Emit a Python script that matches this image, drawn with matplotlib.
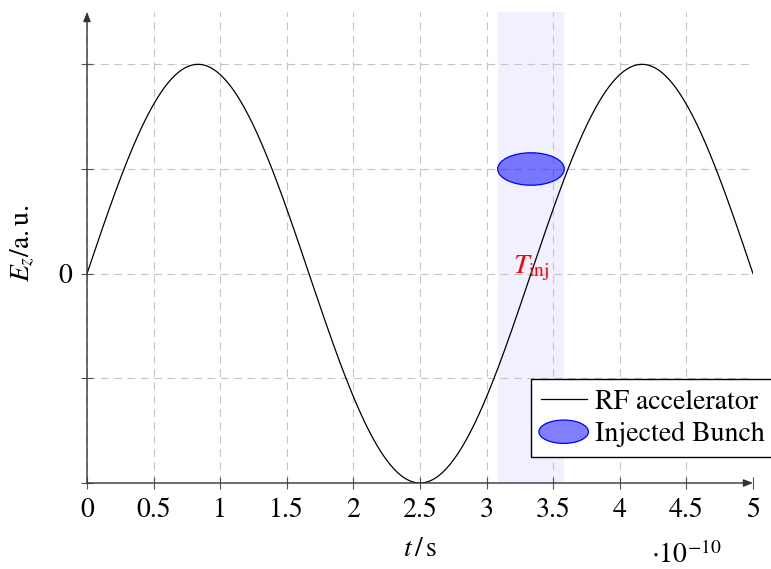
import numpy as np
import matplotlib
matplotlib.use("Agg")
import matplotlib.pyplot as plt
from matplotlib.patches import Ellipse
from matplotlib.legend_handler import HandlerPatch

plt.rcParams["font.family"] = ["STIXGeneral", "DejaVu Serif"]
plt.rcParams["mathtext.fontset"] = "stix"

# RF field parameters (time axis in units of 1e-10 s)
rf_frequency_ghz = 3.0
rf_amplitude = 1.0
t_start, t_end = 0.0, 5.0

# Injected bunch
t_inj = 10.0 / rf_frequency_ghz          # one RF period, in 1e-10 s
window_half_width = 0.25
bunch_field = 0.5
bunch_width = 0.5
bunch_height = 0.155

# Axis ticks
x_ticks = [0, 0.5, 1, 1.5, 2, 2.5, 3, 3.5, 4, 4.5, 5]
x_tick_labels = ["0", "0.5", "1", "1.5", "2", "2.5", "3", "3.5", "4", "4.5", "5"]
y_ticks = [-1, -0.5, 0, 0.5, 1]
y_tick_labels = ["", "", "0", "", ""]

t = np.linspace(t_start, t_end, 1000)
ez = rf_amplitude * np.sin(2 * np.pi * rf_frequency_ghz * 0.1 * t)

fig = plt.figure(figsize=(7.71, 5.69), dpi=100)
ax = fig.add_axes([87 / 771, 1 - 483 / 569, 666 / 771, 471 / 569])

ax.set_xlim(t_start, t_end)
ax.set_ylim(-1, 1.25)

# injection window
ax.axvspan(t_inj - window_half_width, t_inj + window_half_width,
           facecolor=(0.0, 0.0, 1.0, 0.06), edgecolor="none", zorder=0)

ax.grid(True, color="#c4c4c4", linewidth=0.8, linestyle=(0, (7, 5)))
ax.set_axisbelow(True)

ax.plot(t, ez, color="black", linewidth=0.9, zorder=3, label="RF accelerator")

bunch = Ellipse((t_inj, bunch_field), bunch_width, bunch_height,
                facecolor=(0.0, 0.0, 1.0, 0.5), edgecolor="blue",
                linewidth=0.9, zorder=4, label="Injected Bunch")
ax.add_patch(bunch)

ax.text(t_inj, 0.0, r"$T_{\mathrm{inj}}$", color="red", fontsize=20,
        ha="center", va="baseline", zorder=5)

# axes with arrow heads
for s in ax.spines.values():
    s.set_visible(False)
arrow_kw = dict(arrowstyle="-|>,head_length=0.55,head_width=0.22",
                color="#333333", lw=1.0, shrinkA=0, shrinkB=0, mutation_scale=10)
ax.annotate("", xy=(0, 1), xytext=(0, 0), xycoords="axes fraction",
            textcoords="axes fraction", arrowprops=arrow_kw, zorder=6)
ax.annotate("", xy=(1, 0), xytext=(0, 0), xycoords="axes fraction",
            textcoords="axes fraction", arrowprops=arrow_kw, zorder=6)

ax.set_xticks(x_ticks, x_tick_labels)
ax.set_yticks(y_ticks, y_tick_labels)
ax.tick_params(direction="inout", length=8.5, width=0.8, color="#555555",
               labelsize=20, pad=6.5)

ax.set_xlabel(r"$t\,/\,\mathrm{s}$", fontsize=20)
ax.xaxis.set_label_coords(0.5, -0.115)
ax.set_ylabel(r"$E_z/\mathrm{a.u.}$", fontsize=20)
ax.yaxis.set_label_coords(-0.076, 0.51)

fig.text(651 / 771, 1 - 563 / 569, r"$\cdot 10^{-10}$", fontsize=20,
         ha="left", va="baseline")


class HandlerEllipse(HandlerPatch):
    def create_artists(self, legend, orig_handle, xdescent, ydescent,
                       width, height, fontsize, trans):
        cx = 0.5 * width - xdescent
        cy = 0.5 * height - ydescent
        e = Ellipse((cx, cy), width * 1.08, height * 1.1)
        self.update_prop(e, orig_handle, legend)
        e.set_transform(trans)
        return [e]


leg = ax.legend(handles=[ax.lines[0], bunch],
                handler_map={Ellipse: HandlerEllipse()},
                loc="upper left",
                bbox_to_anchor=(531 / 771, 1 - 379 / 569),
                bbox_transform=fig.transFigure,
                fontsize=20, frameon=True, fancybox=False,
                edgecolor="black", facecolor="white", framealpha=1,
                borderpad=0.35, labelspacing=0.22, handlelength=1.65,
                handleheight=0.8, handletextpad=0.3, borderaxespad=0)
leg.get_frame().set_linewidth(1.0)
leg.set_zorder(10)

fig.savefig("out.png", dpi=100)
